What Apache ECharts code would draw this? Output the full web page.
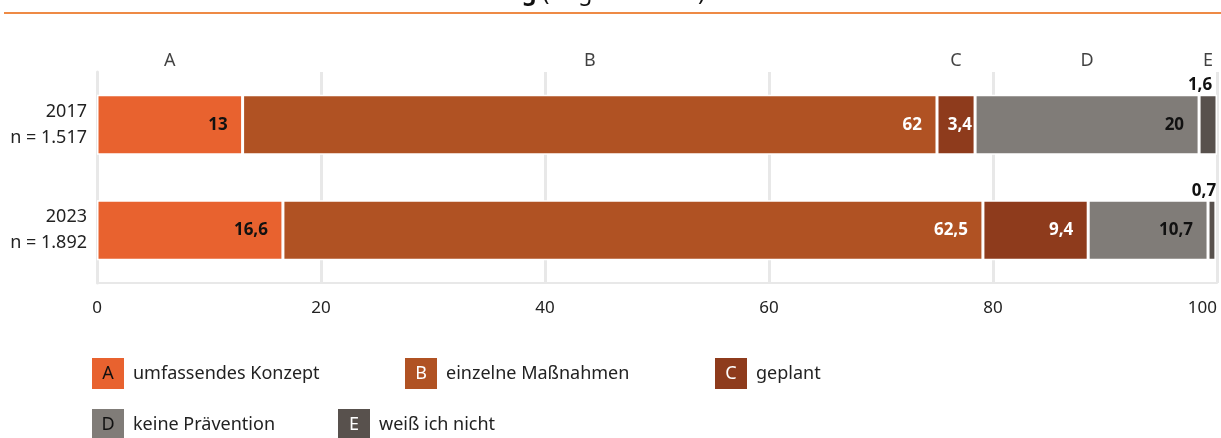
<!DOCTYPE html>
<html><head><meta charset="utf-8">
<script src="https://cdn.jsdelivr.net/npm/echarts@6/dist/echarts.min.js"></script>
<style>html,body{margin:0;padding:0;background:#fff}#c{width:1221px;height:438px}</style>
</head><body><div id="c"></div>
<script>
const categories = ['2017\nn = 1.517', '2023\nn = 1.892'];
const seriesNames = ['umfassendes Konzept', 'einzelne Maßnahmen', 'geplant', 'keine Prävention', 'weiß ich nicht'];
const letters = ['A', 'B', 'C', 'D', 'E'];
const valuesA = [13, 16.6];
const valuesB = [62, 62.5];
const valuesC = [3.4, 9.4];
const valuesD = [20, 10.7];
const valuesE = [1.6, 0.7];
const xTicks = [0, 20, 40, 60, 80, 100];

const colors = ['#E8622F', '#B05223', '#8E3B1C', '#807C78', '#58514D'];
const labelColors = ['#111', '#fff', '#fff', '#111', '#111'];
const letterColors = ['#111', '#fff', '#fff', '#111', '#fff'];
const allValues = [valuesA, valuesB, valuesC, valuesD, valuesE];
const FONT = 'Noto Sans';
const fmt = v => String(v).replace('.', ',');

const series = allValues.map((vals, i) => ({
  name: seriesNames[i],
  type: 'bar',
  stack: 'total',
  barWidth: 60,
  data: vals.map(v => (i < 4 && v < 5) ? { value: v, label: { distance: 3 } } : v),
  itemStyle: { color: colors[i], borderColor: '#fff', borderWidth: 1.5 },
  label: i === 4 ? {
    show: true, position: 'top', distance: 1, offset: [-8, 0], align: 'center',
    formatter: p => fmt(p.value), fontFamily: FONT, fontWeight: 'bold', fontSize: 17, color: '#111'
  } : {
    show: true, position: 'insideRight', distance: 15,
    formatter: p => fmt(p.value), fontFamily: FONT, fontWeight: 'bold', fontSize: 17, color: labelColors[i]
  },
  emphasis: { disabled: true }
}));

// letter headers above first bar at segment midpoints
let cum = 0;
const letterData = allValues.map((vals, i) => {
  const mid = cum + vals[0] / 2; cum += vals[0];
  return { value: [mid, categories[0]], name: letters[i] };
});
series.push({
  type: 'scatter', symbolSize: 0, data: letterData, silent: true,
  label: { show: true, position: 'inside', offset: [0, -64], formatter: p => p.name,
    fontFamily: FONT, fontSize: 18, color: '#111' }
});

const rich = {};
letters.forEach((l, i) => {
  rich['b' + l] = { backgroundColor: colors[i], color: letterColors[i], width: 32, height: 31,
    align: 'center', lineHeight: 31, fontFamily: FONT, fontSize: 18 };
});
rich.sp = { width: 9 };
rich.n = { fontFamily: FONT, fontSize: 18, color: '#222' };

const legendPos = [[87, 358], [400, 358], [710, 358], [87, 409], [333, 409]];
const legends = seriesNames.map((name, i) => ({
  data: [name], left: legendPos[i][0], top: legendPos[i][1], padding: 0, icon: 'none',
  itemWidth: 0, itemHeight: 0, itemGap: 0, selectedMode: false,
  formatter: n => '{b' + letters[i] + '|' + letters[i] + '}{sp|}{n|' + n + '}',
  textStyle: { rich: rich, fontFamily: FONT, fontSize: 18 }
}));

const chart = echarts.init(document.getElementById('c'), null, { renderer: 'canvas' });
chart.setOption({
  animation: false,
  textStyle: { fontFamily: FONT },
  grid: { left: 97, right: 4, top: 72, bottom: 155, containLabel: false, outerBoundsMode: 'none' },
  legend: legends,
  graphic: [
    { type: 'line', shape: { x1: 4, y1: 13, x2: 1221, y2: 13 }, style: { stroke: '#EE8A45', lineWidth: 2 } },
    { type: 'text', left: 522, top: -18, style: {
      text: '{g|g} (Angaben in %)', fontFamily: FONT, fontSize: 23, fill: '#111',
      rich: { g: { fontWeight: 'bold', fontFamily: FONT, fontSize: 23 } } } }
  ],
  xAxis: {
    type: 'value', min: 0, max: 100, interval: 20,
    axisLine: { show: true, lineStyle: { color: '#e8e8e8', width: 2 } }, axisTick: { show: false },
    splitLine: { show: true, lineStyle: { color: '#e8e8e8', width: 3 } },
    axisLabel: { fontFamily: FONT, fontSize: 17, color: '#222', margin: 17, alignMaxLabel: 'right',
      formatter: v => xTicks.includes(v) ? String(v) : '' }
  },
  yAxis: {
    type: 'category', data: categories, inverse: true,
    axisLine: { show: true, lineStyle: { color: '#e8e8e8', width: 3 } },
    axisTick: { show: false },
    axisLabel: { fontFamily: FONT, fontSize: 18, color: '#222', lineHeight: 26, margin: 10, align: 'right' }
  },
  series: series
});
</script>
</body></html>
